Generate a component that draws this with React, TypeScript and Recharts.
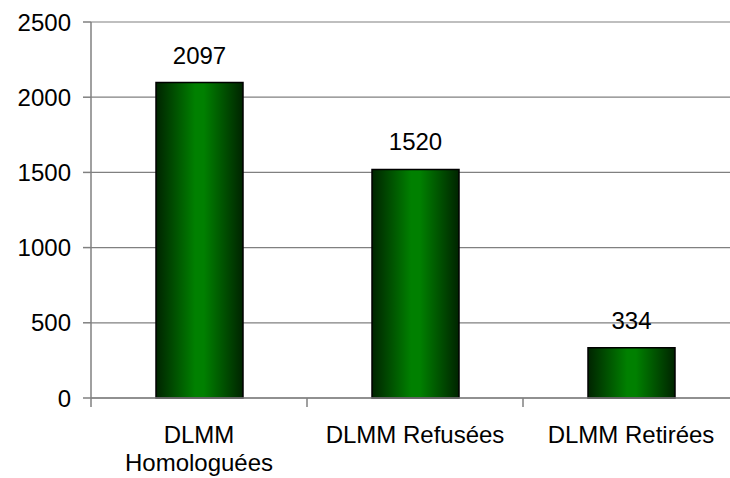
import React from "react";
import { BarChart, Bar, XAxis, YAxis, CartesianGrid, LabelList } from "recharts";

const categories = ["DLMM Homologuées", "DLMM Refusées", "DLMM Retirées"];
const counts = [2097, 1520, 334];
const yTicks = [0, 500, 1000, 1500, 2000, 2500];

const data = categories.map((name, i) => ({ name, value: counts[i] }));

const FONT = "'Liberation Sans', Arial, sans-serif";
const FONT_SIZE = 24;

let ctx: CanvasRenderingContext2D | null = null;
function measure(s: string): number {
  if (!ctx && typeof document !== "undefined") {
    ctx = document.createElement("canvas").getContext("2d");
  }
  if (!ctx) return s.length * FONT_SIZE * 0.55;
  ctx.font = `${FONT_SIZE}px 'Liberation Sans', Arial, sans-serif`;
  return ctx.measureText(s).width;
}

function wrap(text: string, maxWidth: number): string[] {
  const words = String(text).split(" ");
  const lines: string[] = [];
  let cur = "";
  for (const w of words) {
    const cand = cur ? cur + " " + w : w;
    if (cur && measure(cand) > maxWidth) {
      lines.push(cur);
      cur = w;
    } else {
      cur = cand;
    }
  }
  if (cur) lines.push(cur);
  return lines;
}

const XTick = (props: any) => {
  const { x, y, payload } = props;
  const half = payload && payload.offset ? payload.offset : 0;
  const bx = x - half;
  const lines = wrap(payload.value, 195);
  return (
    <g>
      <line x1={bx} x2={bx} y1={y - 29} y2={y - 20} stroke="#808080" strokeWidth={1.5} />
      <text x={x} y={y + 16} textAnchor="middle" fontSize={FONT_SIZE} fontFamily={FONT} fill="#000">
        {lines.map((l, i) => (
          <tspan key={i} x={x} dy={i === 0 ? 0 : 28}>
            {l}
          </tspan>
        ))}
      </text>
    </g>
  );
};

export default function App() {
  return (
    <div style={{ position: "absolute", left: 0, top: 0, width: 730, height: 478, overflow: "hidden", background: "#fff" }}>
      <BarChart
        width={739}
        height={478}
        data={data}
        margin={{ top: 22, right: 0, bottom: 0, left: 0 }}
        barCategoryGap={0}
      >
        <defs>
          <linearGradient id="greenGrad" x1="0" y1="0" x2="1" y2="0">
            <stop offset="0%" stopColor="#002400" />
            <stop offset="45%" stopColor="#008000" />
            <stop offset="55%" stopColor="#008000" />
            <stop offset="100%" stopColor="#002400" />
          </linearGradient>
        </defs>
        <CartesianGrid vertical={false} stroke="#808080" strokeWidth={1.2} />
        <XAxis
          dataKey="name"
          height={80}
          tickLine={false}
          tickSize={9}
          tickMargin={20}
          axisLine={{ stroke: "#808080", strokeWidth: 1.5 }}
          tick={<XTick />}
          interval={0}
        />
        <YAxis
          width={91}
          domain={[0, 2500]}
          ticks={yTicks}
          tickSize={8}
          tickMargin={12}
          tickLine={{ stroke: "#808080", strokeWidth: 1.5 }}
          axisLine={{ stroke: "#808080", strokeWidth: 1.5 }}
          tick={{ fontSize: FONT_SIZE, fontFamily: FONT, fill: "#000" }}
        />
        <Bar
          dataKey="value"
          barSize={87}
          fill="url(#greenGrad)"
          stroke="#000"
          strokeWidth={1.5}
          isAnimationActive={false}
        >
          <LabelList dataKey="value" position="top" offset={19} fontSize={FONT_SIZE} fontFamily={FONT} fill="#000" />
        </Bar>
      </BarChart>
    </div>
  );
}
